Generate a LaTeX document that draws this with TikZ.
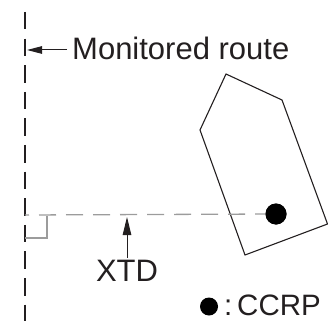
\documentclass[tikz,border=0pt]{standalone}
\usepackage{fontspec}
\setmainfont{Liberation Sans}
\usetikzlibrary{arrows.meta}
\definecolor{ink}{HTML}{231F20}
\definecolor{lightgray}{HTML}{9C9C9C}
\tikzset{
  route/.style={draw=ink, line width=2pt, dash pattern=on 17.5pt off 9.1pt},
  xtdline/.style={draw=lightgray, line width=1.3pt, dash pattern=on 17pt off 10pt, dash phase=13pt},
  rightangle/.style={draw=lightgray, line width=1.3pt},
  pointer/.style={draw=ink, line width=1pt, -{Triangle[length=15pt,width=7.5pt]}},
  vessel/.style={draw=ink, line width=1.1pt, line join=miter},
  dot/.style={circle, fill=black, inner sep=0pt},
  lbl/.style={inner sep=0pt, text=ink, font=\fontsize{31}{36}\selectfont},
  leglbl/.style={inner sep=0pt, text depth=0pt, text=ink, font=\fontsize{29.5}{34}\selectfont}
}
\begin{document}
\begin{tikzpicture}[x=1pt,y=-1pt]
\useasboundingbox (0,0) rectangle (328,320);
% monitored route
\coordinate (routeTop) at (25,12);
\coordinate (routeBot) at (25,322);
\draw[route] (routeTop) -- (routeBot);
% vessel outline
\coordinate (v1) at (226,74);
\coordinate (v2) at (282,100);
\coordinate (v3) at (327.5,224);
\coordinate (v4) at (245,255);
\coordinate (v5) at (200,130);
\draw[vessel] (v1) -- (v2) -- (v3) -- (v4) -- (v5) -- cycle;
% cross track line
\coordinate (foot) at (25,215);
\node[dot, minimum size=21pt] (ccrp) at (276,214) {};
\draw[xtdline] (foot) -- (ccrp.center);
\node[dot, minimum size=21pt] at (ccrp.center) {};
% right angle mark
\coordinate (ra1) at (25,238);
\coordinate (ra2) at (47,238);
\coordinate (ra3) at (47,216);
\draw[rightangle] (ra1) -- (ra2) -- (ra3);
% labels
\node[lbl, anchor=base west] (mon) at (72,60) {Monitored route};
\coordinate (monStart) at (67,50);
\coordinate (monTip) at (27,50);
\draw[pointer] (monStart) -- (monTip);
\node[lbl, anchor=base] (xtd) at (127,281) {XTD};
\coordinate (xtdStart) at (127,258);
\coordinate (xtdTip) at (127,217);
\draw[pointer, -{Triangle[length=18pt,width=8.5pt]}] (xtdStart) -- (xtdTip);
\node[dot, minimum size=18pt] (legdot) at (209,306.5) {};
\node[leglbl, anchor=base west] (colon) at (224,315) {:};
\node[leglbl, anchor=base west] (leg) at (237,315) {CCRP};
\end{tikzpicture}
\end{document}
